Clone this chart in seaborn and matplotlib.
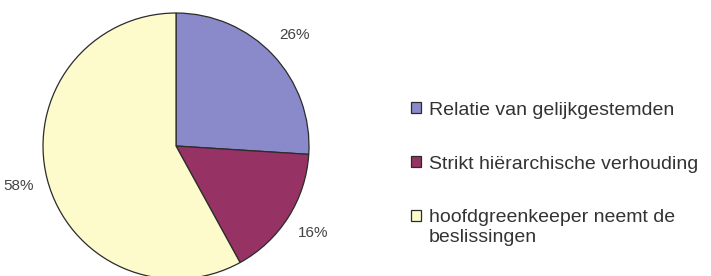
import matplotlib.pyplot as plt
import seaborn as sns

sns.set_theme(style="white")
plt.rcParams['font.family'] = ['Liberation Sans', 'DejaVu Sans']

# data
categories = ['Relatie van gelijkgestemden',
              'Strikt hiërarchische verhouding',
              'hoofdgreenkeeper neemt de\nbeslissingen']
shares = [26, 16, 58]
colors = ['#8a8acb', '#963264', '#fdfacc']

fig = plt.figure(figsize=(7.11, 2.76), dpi=100)
ax = fig.add_axes([0.0605, -0.0109, 0.3741, 0.9638])

wedges, texts, autotexts = ax.pie(
    shares,
    colors=colors,
    startangle=90,
    counterclock=False,
    autopct='%d%%',
    pctdistance=1.22,
    wedgeprops=dict(edgecolor='#2b2b2b', linewidth=0.9),
    textprops=dict(fontsize=11, color='#444444'),
)
ax.set_xlim(-1, 1)
ax.set_ylim(-1, 1)
ax.set_aspect('equal')
ax.axis('off')

# legend on the right
fs = 14
leg = fig.legend(wedges, categories, loc='upper left', bbox_to_anchor=(0.578, 0.632),
                 frameon=False, fontsize=fs, labelspacing=1.9,
                 handlelength=0.53, handleheight=0.53, handletextpad=0.38,
                 borderpad=0, borderaxespad=0, labelcolor='#333333')

# put the last marker next to the first line of its two-line label
last = leg.legend_handles[2]
last.set_y(last.get_y() + 0.6 * fs)

plt.savefig('out.png', dpi=100)
